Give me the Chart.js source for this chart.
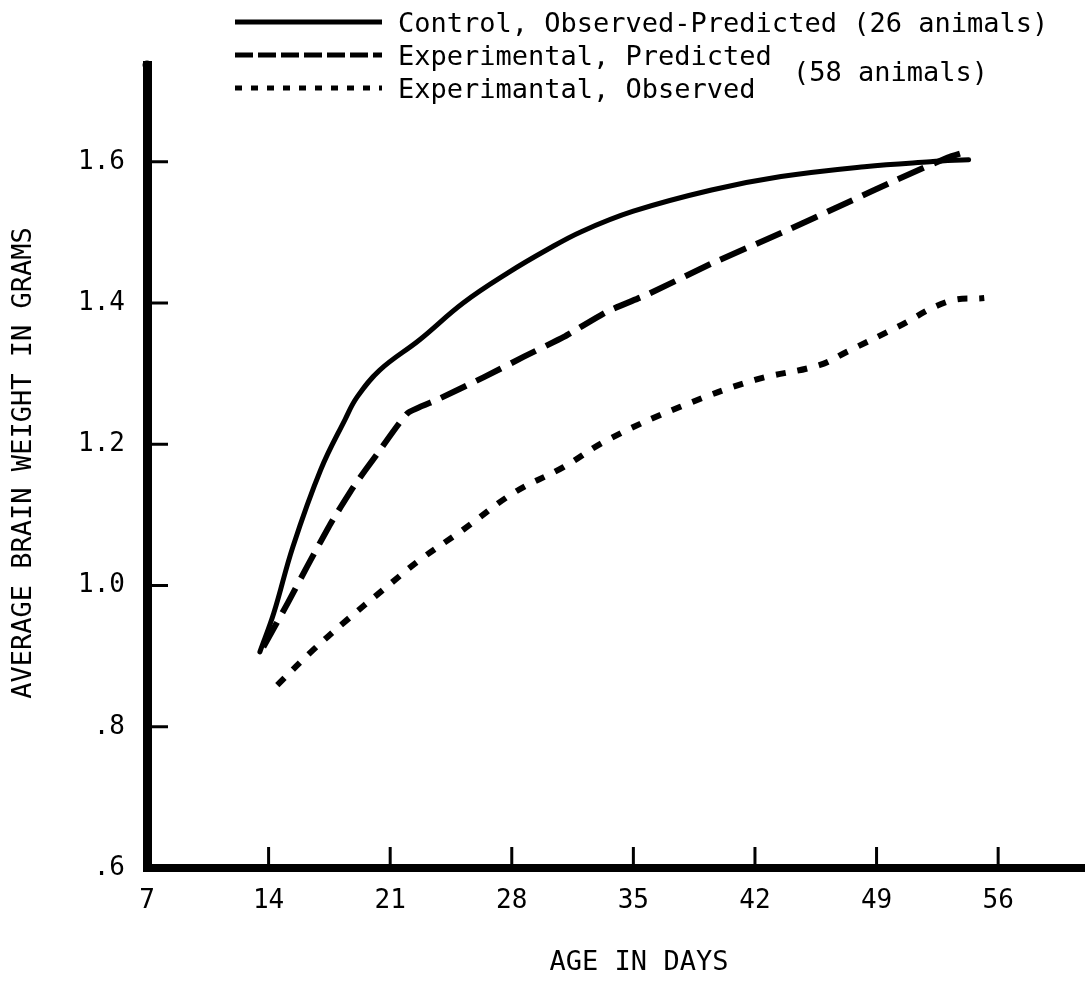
<!DOCTYPE html>
<html>
<head>
<meta charset="utf-8">
<script src="https://cdn.jsdelivr.net/npm/chart.js@4.4.1/dist/chart.umd.min.js"></script>
<style>
  html, body { margin: 0; padding: 0; background: #fff; }
  canvas { display: block; }
</style>
</head>
<body>
<canvas id="chart" width="1085" height="984"></canvas>
<script>
const xTicks = [7, 14, 21, 28, 35, 42, 49, 56];
const yTicks = [0.6, 0.8, 1.0, 1.2, 1.4, 1.6];
const yTickLabels = ['.6', '.8', '1.0', '1.2', '1.4', '1.6'];

// Control, observed = predicted
const controlDays = [13.5, 14.3, 15.4, 17.0, 18.4, 19.1, 20.4, 22.7, 25.2, 27.8, 30.0, 32.0, 35.0, 39.5, 43.5, 48.3, 52.1, 54.3];
const controlWeights = [0.906, 0.961, 1.055, 1.164, 1.235, 1.267, 1.305, 1.348, 1.400, 1.443, 1.475, 1.501, 1.530, 1.560, 1.579, 1.593, 1.600, 1.603];

// Experimental, predicted
const predDays = [13.7, 15.1, 16.2, 17.6, 18.9, 20.3, 22.0, 23.7, 26.4, 28.7, 31.0, 33.5, 35.8, 39.6, 43.5, 47.3, 50.2, 53.1, 54.0];
const predWeights = [0.913, 0.975, 1.026, 1.089, 1.140, 1.188, 1.244, 1.263, 1.295, 1.324, 1.352, 1.388, 1.412, 1.457, 1.499, 1.542, 1.575, 1.606, 1.613];

// Experimental, observed
const obsDays = [14.5, 16.4, 18.5, 20.6, 22.7, 25.2, 28.1, 31.0, 33.5, 37.7, 42.0, 45.7, 47.3, 50.2, 53.1, 55.2];
const obsWeights = [0.859, 0.905, 0.951, 0.994, 1.036, 1.079, 1.131, 1.168, 1.206, 1.253, 1.291, 1.312, 1.331, 1.366, 1.402, 1.407];

const legendLabels = ['Control, Observed-Predicted (26 animals)', 'Experimental, Predicted', 'Experimantal, Observed'];
const legendGroupLabel = '(58 animals)';
const xTitle = 'AGE IN DAYS';
const yTitle = 'AVERAGE BRAIN WEIGHT IN GRAMS';

const FONT = '"DejaVu Sans Mono", monospace';
const INK = '#000';

const toPoints = (days, weights) => days.map((d, i) => ({ x: d, y: weights[i] }));

const lineStyles = [
  { width: 5, dash: [] },
  { width: 6, dash: [28, 11] },
  { width: 6, dash: [10, 12] },
];
const legendStyles = [
  { width: 5, dash: [] },
  { width: 5, dash: [18, 5] },
  { width: 5, dash: [7, 9] },
];

const paperDecor = {
  id: 'paperDecor',
  afterDraw(chart) {
    const { ctx, chartArea } = chart;
    const x = chart.scales.x;
    const y = chart.scales.y;
    ctx.save();
    ctx.strokeStyle = INK;
    ctx.fillStyle = INK;

    // inward tick marks
    ctx.lineWidth = 3;
    xTicks.slice(1).forEach((v) => {
      const px = x.getPixelForValue(v);
      ctx.beginPath();
      ctx.moveTo(px, chartArea.bottom);
      ctx.lineTo(px, chartArea.bottom - 21);
      ctx.stroke();
    });
    yTicks.slice(1).forEach((v) => {
      const py = y.getPixelForValue(v);
      ctx.beginPath();
      ctx.moveTo(chartArea.left, py);
      ctx.lineTo(chartArea.left + 21, py);
      ctx.stroke();
    });

    // rounded top of y axis
    ctx.beginPath();
    ctx.arc(chartArea.left, chartArea.top, 4.5, 0, Math.PI * 2);
    ctx.fill();

    // legend
    ctx.font = '27px ' + FONT;
    ctx.textBaseline = 'alphabetic';
    ctx.textAlign = 'left';
    const rows = [22, 55, 88];
    rows.forEach((ry, i) => {
      ctx.lineWidth = legendStyles[i].width;
      ctx.setLineDash(legendStyles[i].dash);
      ctx.lineCap = 'butt';
      ctx.beginPath();
      ctx.moveTo(235, ry);
      ctx.lineTo(382, ry);
      ctx.stroke();
      ctx.setLineDash([]);
      ctx.fillText(legendLabels[i], 398, ry + 10);
    });
    ctx.fillText(legendGroupLabel, 793, 81);

    // axis titles
    ctx.textAlign = 'center';
    ctx.textBaseline = 'middle';
    ctx.fillText(xTitle, 639, 963);
    ctx.translate(24, 463);
    ctx.rotate(-Math.PI / 2);
    ctx.fillText(yTitle, 0, 0);
    ctx.restore();
  },
};

const datasets = [
  toPoints(controlDays, controlWeights),
  toPoints(predDays, predWeights),
  toPoints(obsDays, obsWeights),
].map((data, i) => ({
  data,
  borderColor: INK,
  borderWidth: lineStyles[i].width,
  borderDash: lineStyles[i].dash,
  borderCapStyle: i === 0 ? 'round' : 'butt',
  borderJoinStyle: 'round',
  pointRadius: 0,
  tension: i === 1 ? 0.15 : 0.4,
  fill: false,
}));

new Chart(document.getElementById('chart'), {
  type: 'line',
  data: { datasets },
  options: {
    responsive: false,
    animation: false,
    layout: { padding: { top: 65, right: 0, bottom: 0, left: 0 } },
    plugins: { legend: { display: false }, tooltip: { enabled: false } },
    scales: {
      x: {
        type: 'linear',
        min: 7,
        max: 61,
        afterBuildTicks: (scale) => { scale.ticks = xTicks.map((v) => ({ value: v })); },
        afterFit: (scale) => { scale.height = 116; },
        grid: { display: false, drawTicks: false },
        border: { display: true, color: INK, width: 8 },
        ticks: { color: INK, font: { family: FONT, size: 26 }, padding: 18, autoSkip: false, maxRotation: 0 },
      },
      y: {
        type: 'linear',
        min: 0.6,
        max: 1.737,
        afterBuildTicks: (scale) => { scale.ticks = yTicks.map((v) => ({ value: v })); },
        afterFit: (scale) => { scale.width = 147; },
        grid: { display: false, drawTicks: false },
        border: { display: true, color: INK, width: 9 },
        ticks: {
          color: INK,
          font: { family: FONT, size: 26 },
          padding: 22,
          callback: (value) => yTickLabels[yTicks.indexOf(value)],
        },
      },
    },
  },
  plugins: [paperDecor],
});
</script>
</body>
</html>
